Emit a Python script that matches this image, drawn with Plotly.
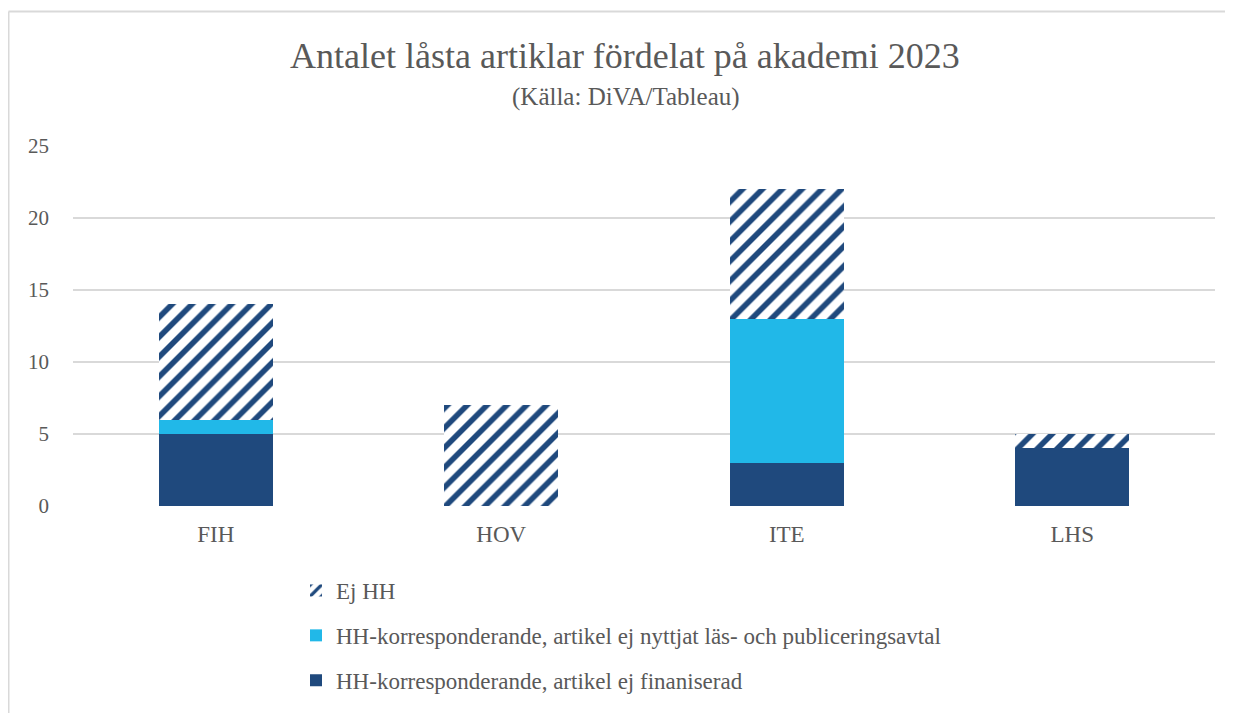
import plotly.graph_objects as go

categories = ["FIH", "HOV", "ITE", "LHS"]
ej_finansierad = [5, 0, 3, 4]
ej_nyttjat = [1, 0, 10, 0]
ej_hh = [8, 7, 9, 1]

names = [
    "HH-korresponderande, artikel ej finaniserad",
    "HH-korresponderande, artikel ej nyttjat läs- och publiceringsavtal",
    "Ej HH",
]

DARK = "#1F497D"
LIGHT = "#21B8E8"
FONT = "Liberation Serif"
OFF = 8  # page body margin
W, H = 1233, 713
L, R, T, B = 73 - OFF, 18 + OFF, 146 - OFF, 207 + OFF
pw, ph = W - L - R, H - T - B

def px_x(px):
    return (px - OFF - L) / pw

def px_y(py):
    return (H - B - (py - OFF)) / ph

fig = go.Figure()
fig.add_trace(go.Bar(x=categories, y=ej_finansierad, name=names[0],
                     marker=dict(color=DARK, line=dict(width=0)), legendgroup="a", legendrank=3))
fig.add_trace(go.Bar(x=categories, y=ej_nyttjat, name=names[1],
                     marker=dict(color=LIGHT, line=dict(width=0)), legendgroup="b", legendrank=2))
fig.add_trace(go.Bar(x=categories, y=ej_hh, name=names[2],
                     marker=dict(color="white", line=dict(width=0),
                                 pattern=dict(shape="/", fgcolor=DARK, bgcolor="white",
                                              size=14, solidity=0.4, fillmode="replace")),
                     legendgroup="c", legendrank=1))

fig.update_layout(
    width=W, height=H,
    barmode="stack", bargap=0.6,
    plot_bgcolor="white", paper_bgcolor="white",
    margin=dict(l=L, r=R, t=T, b=B, autoexpand=False),
    font=dict(family=FONT, color="#595959", size=20),
    showlegend=True,
    legend=dict(orientation="v", x=px_x(296), y=px_y(569), xanchor="left", yanchor="top",
                traceorder="grouped", tracegroupgap=12,
                font=dict(size=23, color="#595959"), bgcolor="rgba(0,0,0,0)"),
    xaxis=dict(showgrid=False, showline=False, ticks="", tickfont=dict(size=23),
               ticklabelstandoff=12),
    yaxis=dict(range=[0, 25], tickvals=[0, 5, 10, 15, 20, 25], showgrid=True,
               gridcolor="#D9D9D9", gridwidth=1.5, zeroline=False, showline=False,
               tickfont=dict(size=21), ticklabelstandoff=23),
    annotations=[
        dict(text="Antalet låsta artiklar fördelat på akademi 2023", x=px_x(625), y=px_y(56),
             xref="paper", yref="paper", showarrow=False, xanchor="center", yanchor="middle",
             font=dict(size=36, color="#595959", family=FONT)),
        dict(text="(Källa: DiVA/Tableau)", x=px_x(626), y=px_y(97),
             xref="paper", yref="paper", showarrow=False, xanchor="center", yanchor="middle",
             font=dict(size=25, color="#595959", family=FONT)),
    ],
    shapes=[
        dict(type="line", xref="paper", yref="paper", x0=px_x(8.5), x1=px_x(1250),
             y0=px_y(11.5), y1=px_y(11.5), line=dict(color="#D9D9D9", width=2)),
        dict(type="line", xref="paper", yref="paper", x0=px_x(8.5), x1=px_x(8.5),
             y0=px_y(11.5), y1=px_y(730), line=dict(color="#D9D9D9", width=2)),
    ],
)

fig.write_html("out.html")
